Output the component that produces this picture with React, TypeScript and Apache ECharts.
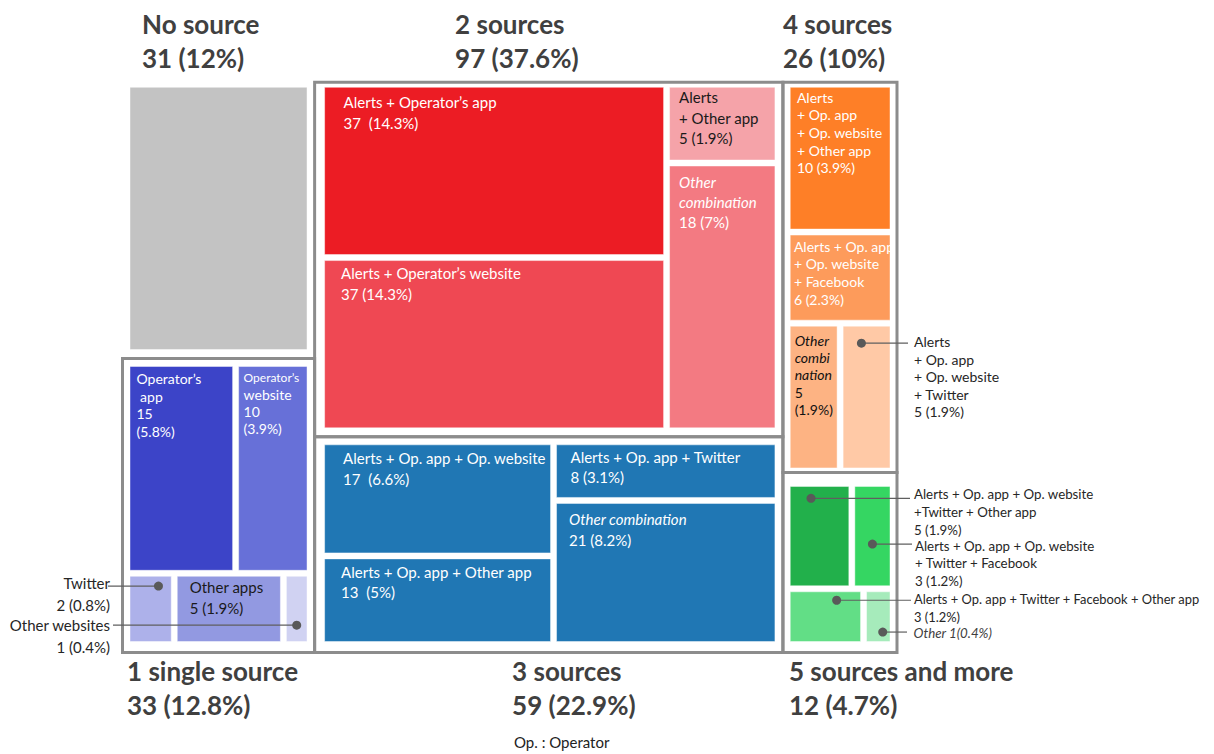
import React, { useEffect, useRef } from "react";
import * as echarts from "echarts";

// ---------- data ----------
const groupNames = ["No source", "1 single source", "2 sources", "3 sources", "4 sources", "5 sources and more"];
const groupTotals = [31, 33, 97, 59, 26, 12];
const groupShares = ["12%", "12.8%", "37.6%", "22.9%", "10%", "4.7%"];
const groupColumn = [0, 0, 1, 1, 2, 2];
const groupArrangement = ["rows", "rows", "cols", "cols", "rows", "rows"];

const cellNames = [
  "No source",
  "Operator’s app",
  "Operator’s website",
  "Twitter",
  "Other apps",
  "Other websites",
  "Alerts + Operator’s app",
  "Alerts + Operator’s website",
  "Alerts + Other app",
  "Other combination",
  "Alerts + Op. app + Op. website",
  "Alerts + Op. app + Other app",
  "Alerts + Op. app + Twitter",
  "Other combination",
  "Alerts + Op. app + Op. website + Other app",
  "Alerts + Op. app + Op. website + Facebook",
  "Other combination",
  "Alerts + Op. app + Op. website + Twitter",
  "Alerts + Op. app + Op. website + Twitter + Other app",
  "Alerts + Op. app + Op. website + Twitter + Facebook",
  "Alerts + Op. app + Twitter + Facebook + Other app",
  "Other",
];
const cellValues = [31, 15, 10, 2, 5, 1, 37, 37, 5, 18, 17, 13, 8, 21, 10, 6, 5, 5, 5, 3, 3, 1];
const cellShares = ["12%", "5.8%", "3.9%", "0.8%", "1.9%", "0.4%", "14.3%", "14.3%", "1.9%", "7%", "6.6%", "5%", "3.1%", "8.2%", "3.9%", "2.3%", "1.9%", "1.9%", "1.9%", "1.2%", "1.2%", "0.4%"];
const cellGroup = [0, 1, 1, 1, 1, 1, 2, 2, 2, 2, 3, 3, 3, 3, 4, 4, 4, 4, 5, 5, 5, 5];
const cellLine = [0, 0, 0, 1, 1, 1, 0, 0, 1, 1, 0, 0, 1, 1, 0, 1, 2, 2, 0, 0, 1, 1];
const cellLabels = [
  "",
  "Operator’s\n app\n15\n(5.8%)",
  "Operator’s\nwebsite\n10\n(3.9%)",
  "Twitter\n2 (0.8%)",
  "Other apps\n5 (1.9%)",
  "Other websites\n1 (0.4%)",
  "Alerts + Operator’s app\n37  (14.3%)",
  "Alerts + Operator’s website\n37 (14.3%)",
  "Alerts\n+ Other app\n5 (1.9%)",
  "Other\ncombination\n18 (7%)",
  "Alerts + Op. app + Op. website\n17  (6.6%)",
  "Alerts + Op. app + Other app\n13  (5%)",
  "Alerts + Op. app + Twitter\n8 (3.1%)",
  "Other combination\n21 (8.2%)",
  "Alerts\n+ Op. app\n+ Op. website\n+ Other app\n10 (3.9%)",
  "Alerts + Op. app\n+ Op. website\n+ Facebook\n6 (2.3%)",
  "Other\ncombi\nnation\n5\n(1.9%)",
  "Alerts\n+ Op. app\n+ Op. website\n+ Twitter\n5 (1.9%)",
  "Alerts + Op. app + Op. website\n+Twitter + Other app\n5 (1.9%)",
  "Alerts + Op. app + Op. website\n+ Twitter + Facebook\n3 (1.2%)",
  "Alerts + Op. app + Twitter + Facebook + Other app\n3 (1.2%)",
  "Other 1(0.4%)",
];
const footnote = "Op. : Operator";

// ---------- styles (positions / sizes / colours) ----------
const FONT = "Lato";
const GAP = 6;
type GStyle = { pad: number[]; border: boolean; title: "top" | "bottom"; tx: number };
const groupStyles: GStyle[] = [
  { pad: [5, 7.6, 9, 7.5], border: false, title: "top", tx: 19.5 },
  { pad: [8, 7.6, 11, 7.5], border: true, title: "bottom", tx: 4.5 },
  { pad: [5, 8, 9, 10], border: true, title: "top", tx: 140.5 },
  { pad: [8, 8, 11, 10], border: true, title: "bottom", tx: 197.5 },
  { pad: [5, 7, 4.5, 7.3], border: true, title: "top", tx: 0 },
  { pad: [14, 7, 11, 7.3], border: true, title: "bottom", tx: 6 },
];

type Ext = { side: "left" | "right"; fx: number; fy: number; lineGap: number; textGap: number; ty: number };
type CStyle = { color: string; tc?: string; fs?: number; lh?: number; px?: number; py?: number; ls?: string; ext?: Ext };
const W = "#ffffff";
const DK = "#262626";
const cellStyles: CStyle[] = [
  { color: "#c3c3c3" },
  { color: "#3c44c8", tc: W, fs: 14, lh: 17.5, px: 6.5, py: 3.5 },
  { color: "#6770d8", tc: W, fs: 14, lh: 17, px: 5, py: 3, ls: "s" },
  { color: "#adb1ea", tc: DK, fs: 15, lh: 21.5, ext: { side: "left", fx: 0.69, fy: 0.15, lineGap: 14.5, textGap: 12.5, ty: -3 } },
  { color: "#9299e1", tc: "#1a1a1a", fs: 15, lh: 20.5, px: 12.5, py: 0.5 },
  { color: "#d0d2f2", tc: DK, fs: 15, lh: 21.5, ext: { side: "left", fx: 0.5, fy: 0.75, lineGap: 9.5, textGap: 12.5, ty: 0 } },
  { color: "#ec1c24", tc: W, fs: 15, lh: 20.5, px: 19, py: 4.5 },
  { color: "#ef4853", tc: W, fs: 15, lh: 20.5, px: 16.5, py: 2.5 },
  { color: "#f5a3a9", tc: "#1a1a1a", fs: 15, lh: 20.3, px: 9.5, py: 0 },
  { color: "#f37a82", tc: W, fs: 15, lh: 20, px: 9.5, py: 6, ls: "ii" },
  { color: "#2077b4", tc: W, fs: 15, lh: 20.5, px: 18.5, py: 3 },
  { color: "#2077b4", tc: W, fs: 15, lh: 20.5, px: 16.5, py: 2.5 },
  { color: "#2077b4", tc: W, fs: 15, lh: 20.5, px: 14, py: 1.5 },
  { color: "#2077b4", tc: W, fs: 15, lh: 20.5, px: 12.5, py: 5.5, ls: "i" },
  { color: "#fe7f27", tc: W, fs: 14, lh: 17.7, px: 6.7, py: 1 },
  { color: "#fd9b5b", tc: W, fs: 14, lh: 17.6, px: 3.7, py: 2.5 },
  { color: "#fdb383", tc: "#111111", fs: 14, lh: 17.3, px: 4.4, py: 5.5, ls: "iii" },
  { color: "#ffc9a6", tc: DK, fs: 14, lh: 17.6, ext: { side: "right", fx: 0.39, fy: 0.12, lineGap: 11, textGap: 17, ty: -1.6 } },
  { color: "#22b04b", tc: DK, fs: 13.3, lh: 17.7, ext: { side: "right", fx: 0.355, fy: 0.12, lineGap: 13, textGap: 17, ty: -4 } },
  { color: "#35d662", tc: DK, fs: 13.3, lh: 17.7, ext: { side: "right", fx: 0.5, fy: 0.58, lineGap: 15, textGap: 18, ty: 1.5 } },
  { color: "#62de86", tc: DK, fs: 12.9, lh: 17.7, ext: { side: "right", fx: 0.66, fy: 0.17, lineGap: 14, textGap: 17, ty: -1.4 } },
  { color: "#a6ebbb", tc: "#404040", fs: 13.3, lh: 17.7, ls: "i", ext: { side: "right", fx: 0.69, fy: 0.81, lineGap: 10, textGap: 16.5, ty: 0.5 } },
];

const TOTAL = groupTotals.reduce((a, b) => a + b, 0);

type R = { x: number; y: number; w: number; h: number };

function computeLayout(api: any) {
  const ncol = Math.max(...groupColumn) + 1;
  const colSums = new Array(ncol).fill(0);
  groupTotals.forEach((v, g) => (colSums[groupColumn[g]] += v));
  const groupRects: R[] = [];
  let xCum = 0;
  for (let c = 0; c < ncol; c++) {
    const x0 = api.coord([xCum, 0])[0];
    const x1 = api.coord([xCum + colSums[c], 0])[0];
    let yCum = 0;
    groupTotals.forEach((v, g) => {
      if (groupColumn[g] !== c) return;
      const y0 = api.coord([0, yCum / colSums[c]])[1];
      const y1 = api.coord([0, (yCum + v) / colSums[c]])[1];
      groupRects[g] = { x: x0, y: y0, w: x1 - x0, h: y1 - y0 };
      yCum += v;
    });
    xCum += colSums[c];
  }
  const cellRects: R[] = [];
  groupRects.forEach((r, g) => {
    const [pt, pr, pb, pl] = groupStyles[g].pad;
    const ix = r.x + pl, iy = r.y + pt, iw = r.w - pl - pr, ih = r.h - pt - pb;
    const cells = cellValues.map((_, i) => i).filter((i) => cellGroup[i] === g);
    const nLines = Math.max(...cells.map((i) => cellLine[i])) + 1;
    const lineSums = new Array(nLines).fill(0);
    cells.forEach((i) => (lineSums[cellLine[i]] += cellValues[i]));
    const gSum = lineSums.reduce((a, b) => a + b, 0);
    const rows = groupArrangement[g] === "rows";
    const mainLen = (rows ? ih : iw) - GAP * (nLines - 1);
    let mainPos = rows ? iy : ix;
    for (let l = 0; l < nLines; l++) {
      const len = (mainLen * lineSums[l]) / gSum;
      const lc = cells.filter((i) => cellLine[i] === l);
      const crossLen = (rows ? iw : ih) - GAP * (lc.length - 1);
      let crossPos = rows ? ix : iy;
      lc.forEach((i) => {
        const cl = (crossLen * cellValues[i]) / lineSums[l];
        cellRects[i] = rows ? { x: crossPos, y: mainPos, w: cl, h: len } : { x: mainPos, y: crossPos, w: len, h: cl };
        crossPos += cl + GAP;
      });
      mainPos += len + GAP;
    }
  });
  return { groupRects, cellRects };
}

function richText(label: string, ls: string | undefined) {
  const codes = ls || "";
  return label
    .split("\n")
    .map((line, k) => {
      const c = codes[k];
      const key = c === "i" ? "it" : c === "s" ? "sm" : "n";
      return `{${key}|${line}}`;
    })
    .join("\n");
}

function richStyles(s: CStyle) {
  const base = { fontFamily: FONT, fontSize: s.fs, lineHeight: s.lh, fill: s.tc };
  return {
    n: { ...base },
    it: { ...base, fontStyle: "italic" },
    sm: { ...base, fontSize: (s.fs || 14) - 2 },
  };
}

function renderGroup(params: any, api: any) {
  const g = params.dataIndex;
  const { groupRects } = computeLayout(api);
  const r = groupRects[g];
  const s = groupStyles[g];
  const children: any[] = [];
  if (s.border) {
    children.push({
      type: "rect",
      shape: { x: r.x, y: r.y, width: r.w, height: r.h },
      style: { fill: "none", stroke: "#8c8c8c", lineWidth: 3 },
    });
  }
  const top = s.title === "top";
  children.push({
    type: "text",
    style: {
      text: `${groupNames[g]}\n${groupTotals[g]} (${groupShares[g]})`,
      x: r.x + s.tx,
      y: top ? r.y - 7 : r.y + r.h + 1,
      align: "left",
      verticalAlign: top ? "bottom" : "top",
      fontFamily: FONT,
      fontWeight: "bold",
      fontSize: 26,
      lineHeight: 34,
      fill: "#404040",
    },
  });
  return { type: "group", children };
}

function renderCell(params: any, api: any) {
  const i = params.dataIndex;
  const { groupRects, cellRects } = computeLayout(api);
  const r = cellRects[i];
  const s = cellStyles[i];
  const children: any[] = [
    {
      type: "rect",
      shape: { x: r.x, y: r.y, width: r.w, height: r.h },
      style: { fill: s.color, stroke: "rgba(255,255,255,0.45)", lineWidth: 1 },
    },
  ];
  const label = cellLabels[i];
  if (label) {
    const text = richText(label, s.ls);
    const rich = richStyles(s);
    if (!s.ext) {
      children.push({
        type: "text",
        z2: 10,
        style: {
          text,
          rich,
          x: r.x + (s.px || 0),
          y: r.y + (s.py || 0),
          align: "left",
          verticalAlign: "top",
          fontFamily: FONT,
          fontSize: s.fs,
          fill: s.tc,
        },
      });
    } else {
      const e = s.ext;
      const g = groupRects[cellGroup[i]];
      const dx = r.x + r.w * e.fx;
      const dy = r.y + r.h * e.fy;
      const right = e.side === "right";
      const lineEnd = right ? g.x + g.w + e.lineGap : g.x - e.lineGap;
      const textX = right ? g.x + g.w + e.textGap : g.x - e.textGap;
      children.push({
        type: "line",
        z2: 20,
        shape: { x1: dx, y1: dy, x2: lineEnd, y2: dy },
        style: { stroke: "#5f5f5f", lineWidth: 1.2 },
      });
      children.push({
        type: "circle",
        z2: 21,
        shape: { cx: dx, cy: dy, r: 4.5 },
        style: { fill: "#595959" },
      });
      children.push({
        type: "text",
        z2: 20,
        style: {
          text,
          rich,
          x: textX,
          y: dy + e.ty - (s.lh || 17) / 2,
          align: right ? "left" : "right",
          verticalAlign: "top",
          fontFamily: FONT,
          fontSize: s.fs,
          fill: s.tc,
        },
      });
    }
  }
  return { type: "group", children };
}

export default function App() {
  const ref = useRef<HTMLDivElement>(null);
  useEffect(() => {
    if (!ref.current) return;
    const chart = echarts.init(ref.current, undefined, { renderer: "svg" });
    chart.setOption({
      animation: false,
      backgroundColor: "#ffffff",
      grid: { left: 122.5, top: 82.3, width: 774.5, height: 570.2 },
      xAxis: { type: "value", min: 0, max: TOTAL, show: false },
      yAxis: { type: "value", min: 0, max: 1, show: false, inverse: true },
      tooltip: { show: false },
      series: [
        {
          type: "custom",
          name: "groups",
          coordinateSystem: "cartesian2d",
          silent: true,
          clip: false,
          data: groupTotals.map((v, g) => ({ name: groupNames[g], value: [0, 0, v] })),
          renderItem: renderGroup,
        },
        {
          type: "custom",
          name: "cells",
          coordinateSystem: "cartesian2d",
          silent: true,
          clip: false,
          data: cellValues.map((v, i) => ({ name: cellNames[i], value: [0, 0, v, cellShares[i]] })),
          renderItem: renderCell,
        },
      ],
      graphic: [
        {
          type: "text",
          x: 514,
          y: 742,
          style: {
            text: footnote,
            fontFamily: FONT,
            fontSize: 15,
            fill: "#222222",
            align: "left",
            verticalAlign: "middle",
          },
        },
      ],
    });
    return () => chart.dispose();
  }, []);
  return (
    <div
      ref={ref}
      style={{ width: 1214, height: 754, margin: "-8px 0 0 -8px", background: "#fff" }}
    />
  );
}
